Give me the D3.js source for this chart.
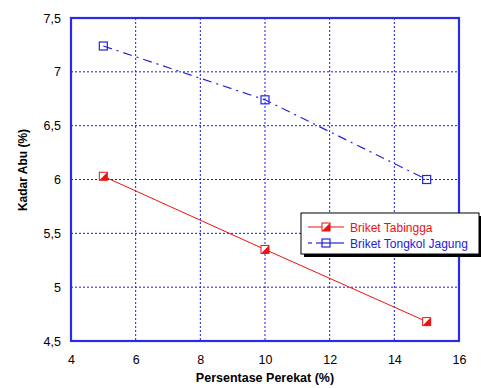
<!DOCTYPE html>
<html>
<head>
<meta charset="utf-8">
<script src="https://cdn.jsdelivr.net/npm/d3@7"></script>
<style>
  body { margin: 0; background: #fff; }
  text { font-family: "Liberation Sans", Arial, sans-serif; }
</style>
</head>
<body>
<svg width="481" height="388"></svg>
<script>
// data
const perekat = [5, 10, 15];
const tabingga = [6.03, 5.35, 4.68];
const tongkol = [7.24, 6.74, 6.0];
const xTicks = [4, 6, 8, 10, 12, 14, 16];
const yTicks = [4.5, 5, 5.5, 6, 6.5, 7, 7.5];
const seriesNames = ["Briket Tabingga", "Briket Tongkol Jagung"];

const svg = d3.select("svg");
const m = {left: 71, right: 459, top: 18, bottom: 341};

let x = d3.scaleLinear().domain([4, 16]).range([m.left, m.right]);
let y = d3.scaleLinear().domain([4.5, 7.5]).range([m.bottom, m.top]);
const fmt = d => String(d).replace(".", ",");

// grid
let grid = svg.append("g");
grid.selectAll("line.gx").data(xTicks.slice(1, -1)).enter().append("line")
  .attr("x1", d => x(d)).attr("x2", d => x(d))
  .attr("y1", m.top).attr("y2", m.bottom)
  .attr("stroke", "#1a1ae6").attr("stroke-width", 1).attr("stroke-dasharray", "2,2");
grid.selectAll("line.gy").data(yTicks.slice(1, -1)).enter().append("line")
  .attr("y1", d => y(d)).attr("y2", d => y(d))
  .attr("x1", m.left).attr("x2", m.right)
  .attr("stroke", "#1a1ae6").attr("stroke-width", 1).attr("stroke-dasharray", "2,2");

// frame
svg.append("rect")
  .attr("x", m.left).attr("y", m.top)
  .attr("width", m.right - m.left).attr("height", m.bottom - m.top)
  .attr("fill", "none").attr("stroke", "#2a2aee").attr("stroke-width", 2.2);

// axes
let xAxis = d3.axisBottom(x).tickValues(xTicks).tickSize(0).tickPadding(14).tickFormat(fmt);
let gx = svg.append("g").attr("transform", `translate(0,${m.bottom})`).call(xAxis);
gx.select(".domain").remove();
gx.selectAll("text").attr("font-size", 12.5).attr("fill", "#000").attr("font-family", "Liberation Sans, Arial");

let yAxis = d3.axisLeft(y).tickValues(yTicks).tickSize(0).tickPadding(10).tickFormat(fmt);
let gy = svg.append("g").attr("transform", `translate(${m.left},0)`).call(yAxis);
gy.select(".domain").remove();
gy.selectAll("text").attr("font-size", 12.5).attr("fill", "#000").attr("font-family", "Liberation Sans, Arial");

// titles
svg.append("text").attr("x", 265).attr("y", 382)
  .attr("text-anchor", "middle").attr("font-size", 12.5).attr("font-weight", "bold")
  .text("Persentase Perekat (%)");
svg.append("text").attr("transform", `translate(27,170) rotate(-90)`)
  .attr("text-anchor", "middle").attr("font-size", 12).attr("font-weight", "bold")
  .text("Kadar Abu (%)");

// lines
let line = d3.line().x((d, i) => x(perekat[i])).y(d => y(d));
svg.append("path").datum(tabingga).attr("d", line)
  .attr("fill", "none").attr("stroke", "#ee1111").attr("stroke-width", 1);
svg.append("path").datum(tongkol).attr("d", line)
  .attr("fill", "none").attr("stroke", "#2222dd").attr("stroke-width", 1.2)
  .attr("stroke-dasharray", "9,5,2,5");

// markers
const S = 8;
function redMarker(g, cx, cy) {
  g.append("rect").attr("x", cx - S / 2).attr("y", cy - S / 2).attr("width", S).attr("height", S)
    .attr("fill", "#fff").attr("stroke", "#ee1111").attr("stroke-width", 1);
  g.append("path")
    .attr("d", `M${cx + S / 2},${cy - S / 2}L${cx + S / 2},${cy + S / 2}L${cx - S / 2},${cy + S / 2}Z`)
    .attr("fill", "#ee1111");
}
function blueMarker(g, cx, cy) {
  g.append("rect").attr("x", cx - S / 2).attr("y", cy - S / 2).attr("width", S).attr("height", S)
    .attr("fill", "none").attr("stroke", "#2222dd").attr("stroke-width", 1.2);
}
let mk = svg.append("g");
tabingga.forEach((d, i) => redMarker(mk, x(perekat[i]), y(d)));
tongkol.forEach((d, i) => blueMarker(mk, x(perekat[i]), y(d)));

// legend
let lg = svg.append("g");
lg.append("rect").attr("x", 304).attr("y", 216).attr("width", 180).attr("height", 41).attr("fill", "#000");
lg.append("rect").attr("x", 301).attr("y", 213).attr("width", 178).attr("height", 41)
  .attr("fill", "#fff").attr("stroke", "#000").attr("stroke-width", 1);
lg.append("line").attr("x1", 308).attr("x2", 344).attr("y1", 227).attr("y2", 227)
  .attr("stroke", "#ee1111").attr("stroke-width", 1);
redMarker(lg, 326, 227);
lg.append("line").attr("x1", 316).attr("x2", 344).attr("y1", 243).attr("y2", 243)
  .attr("stroke", "#2222dd").attr("stroke-width", 1.2);
lg.append("line").attr("x1", 308).attr("x2", 312).attr("y1", 243).attr("y2", 243)
  .attr("stroke", "#2222dd").attr("stroke-width", 1.2);
blueMarker(lg, 326, 243);
lg.append("text").attr("x", 350).attr("y", 231.5).attr("font-size", 12).attr("fill", "#ee1111").text(seriesNames[0]);
lg.append("text").attr("x", 350).attr("y", 247.5).attr("font-size", 12).attr("fill", "#2222dd").text(seriesNames[1]);
</script>
</body>
</html>
